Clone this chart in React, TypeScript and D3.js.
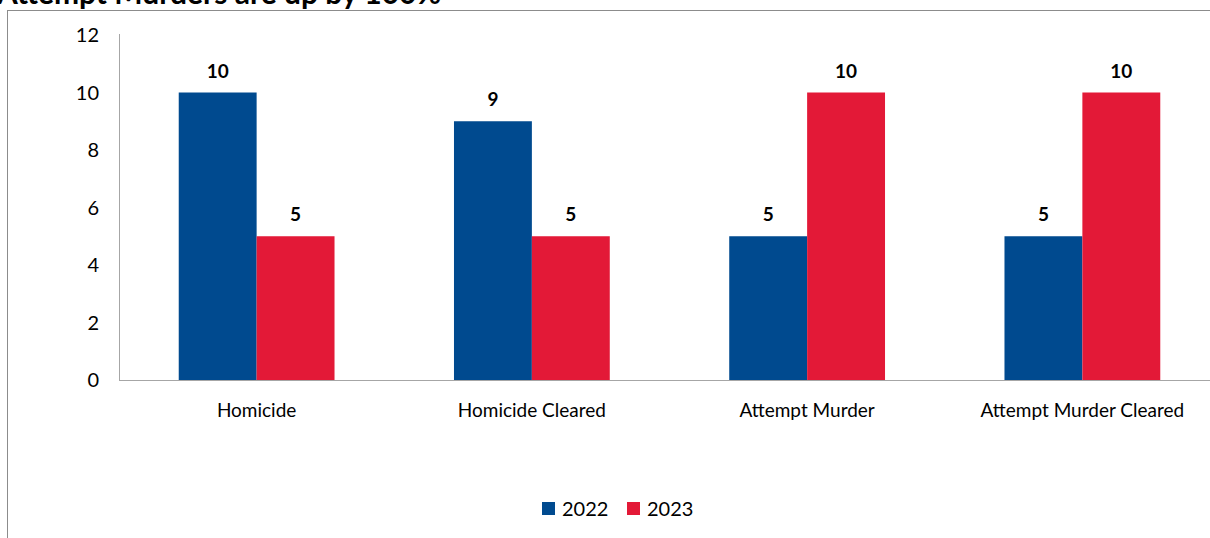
import React, { useEffect } from "react";
import * as d3 from "d3";

const WIDTH = 1210;
const HEIGHT = 538;
const MARGIN = { top: 35, right: -10, bottom: 158, left: 119 };
const FONT = "Lato, 'Open Sans', sans-serif";

const categories = ["Homicide", "Homicide Cleared", "Attempt Murder", "Attempt Murder Cleared"];
const seriesNames = ["2022", "2023"];
const values2022 = [10, 9, 5, 5];
const values2023 = [5, 5, 10, 10];
const yTicks = [0, 2, 4, 6, 8, 10, 12];
const COLORS = ["#004a8f", "#e31937"];
const TITLE = "Attempt Murders are up by 100%";

const App = () => {
  useEffect(() => {
    document.body.style.margin = "0";
  }, []);

  const boundsWidth = WIDTH - MARGIN.left - MARGIN.right;
  const boundsHeight = HEIGHT - MARGIN.top - MARGIN.bottom;

  const xScale = d3.scaleBand<string>().domain(categories).range([0, boundsWidth]).paddingInner(0.434).paddingOuter(0.217);
  const inner = d3.scaleBand<string>().domain(seriesNames).range([0, xScale.bandwidth()]);
  const yScale = d3.scaleLinear().domain([0, 12]).range([boundsHeight, 0]);

  const series = [values2022, values2023];

  return (
    <svg width={WIDTH} height={HEIGHT} style={{ display: "block", fontFamily: FONT }}>
      <rect x={0} y={0} width={WIDTH} height={HEIGHT} fill="#fff" />
      <text x={-3} y={4} fontSize={30} fontWeight="bold" fill="#000">{TITLE}</text>
      <rect x={7.5} y={10.5} width={WIDTH + 20} height={HEIGHT + 20} fill="none" stroke="#8c8c8c" />
      <g transform={`translate(${MARGIN.left},${MARGIN.top})`}>
        {series.map((vals, si) =>
          vals.map((v, ci) => {
            const x = (xScale(categories[ci]) ?? 0) + (inner(seriesNames[si]) ?? 0);
            return (
              <g key={`${si}_${ci}`}>
                <rect x={x} y={yScale(v)} width={inner.bandwidth()} height={boundsHeight - yScale(v)} fill={COLORS[si]} />
                <text x={x + inner.bandwidth() / 2} y={yScale(v) - 15} textAnchor="middle" fontSize={19} fontWeight="bold" fill="#000">
                  {v}
                </text>
              </g>
            );
          })
        )}
        <line x1={0.5} x2={0.5} y1={-1} y2={boundsHeight} stroke="#a6a6a6" />
        <line x1={0} x2={boundsWidth} y1={boundsHeight + 0.5} y2={boundsHeight + 0.5} stroke="#a6a6a6" />
        {yTicks.map((t) => (
          <text key={t} x={-20} y={yScale(t)} dy="0.35em" textAnchor="end" fontSize={20} fill="#000">
            {t}
          </text>
        ))}
        {categories.map((c) => (
          <text key={c} x={(xScale(c) ?? 0) + xScale.bandwidth() / 2} y={boundsHeight + 37} textAnchor="middle" fontSize={19} fill="#000">
            {c}
          </text>
        ))}
      </g>
      <g transform={`translate(542, 502)`}>
        {seriesNames.map((s, i) => (
          <g key={s} transform={`translate(${i * 85},0)`}>
            <rect x={0} y={0} width={13} height={13} fill={COLORS[i]} />
            <text x={20} y={14} fontSize={20} fill="#000">{s}</text>
          </g>
        ))}
      </g>
    </svg>
  );
};

export default App;
